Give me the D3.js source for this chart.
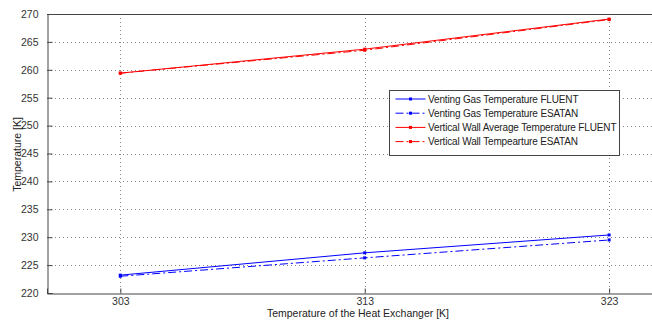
<!DOCTYPE html>
<html>
<head>
<meta charset="utf-8">
<script src="https://cdn.jsdelivr.net/npm/d3@7"></script>
<style>
  html, body { margin: 0; padding: 0; background: #fff; }
  svg { display: block; font-family: "Liberation Sans", Arial, sans-serif; }
</style>
</head>
<body>
<div id="chart"></div>
<script>
const exchangerTemps = [303, 313, 323];
const ventFluent = [223.2, 227.2, 230.4];
const ventEsatan = [223.0, 226.3, 229.5];
const wallFluent = [259.4, 263.7, 269.1];
const wallEsatan = [259.4, 263.5, 269.0];
const yTicks = [220, 225, 230, 235, 240, 245, 250, 255, 260, 265, 270];

const series = [
    {name: "Venting Gas Temperature FLUENT", values: ventFluent, color: "#0000ff", dash: null},
    {name: "Venting Gas Temperature ESATAN", values: ventEsatan, color: "#0000ff", dash: "8,3,2,3"},
    {name: "Vertical Wall Average Temperature FLUENT", values: wallFluent, color: "#ff0000", dash: null},
    {name: "Vertical Wall Tempearture ESATAN", values: wallEsatan, color: "#ff0000", dash: "8,3,2,3"}
];

const width = 652;
const height = 320;
const marginTop = 14;
const marginLeft = 47;
const marginBottom = 27;
const plotRight = 658;

const svg = d3.select("#chart").append("svg")
    .attr("width", width)
    .attr("height", height);

const x = d3.scaleLinear().domain([300, 325]).range([marginLeft, plotRight]);
const y = d3.scaleLinear().domain([220, 270]).range([height - marginBottom, marginTop]);

// grid
const grid = svg.append("g")
    .attr("stroke", "#888")
    .attr("stroke-width", 1)
    .attr("stroke-dasharray", "1,3");

grid.selectAll("line.h")
    .data(yTicks.slice(1, -1))
    .join("line")
    .attr("x1", marginLeft).attr("x2", plotRight)
    .attr("y1", d => Math.round(y(d)) + 0.5).attr("y2", d => Math.round(y(d)) + 0.5);

grid.selectAll("line.v")
    .data(exchangerTemps)
    .join("line")
    .attr("x1", d => Math.round(x(d)) + 0.5).attr("x2", d => Math.round(x(d)) + 0.5)
    .attr("y1", marginTop).attr("y2", height - marginBottom);

// axes, ticks pointing inward
const yAxis = svg.append("g")
    .attr("transform", `translate(${marginLeft + 0.5},0)`)
    .call(d3.axisLeft(y).tickValues(yTicks).tickSize(-5).tickPadding(9));

const xAxis = svg.append("g")
    .attr("transform", `translate(0,${height - marginBottom + 0.5})`)
    .call(d3.axisBottom(x).tickValues(exchangerTemps).tickSize(-5).tickPadding(4));

svg.append("line")
    .attr("x1", marginLeft).attr("x2", plotRight)
    .attr("y1", marginTop + 0.5).attr("y2", marginTop + 0.5)
    .attr("stroke", "#444");

[yAxis, xAxis].forEach(a => {
    a.select(".domain").attr("stroke", "#444");
    a.selectAll(".tick line").attr("stroke", "#444");
    a.selectAll(".tick text").attr("fill", "#333").style("font-size", "10.5px")
        .style("font-family", "'Liberation Sans', Arial, sans-serif");
});

// lines + point markers
const line = d3.line()
    .x((d, i) => x(exchangerTemps[i]))
    .y(d => y(d));

const seriesGroup = svg.append("g");
series.forEach(s => {
    seriesGroup.append("path")
        .datum(s.values)
        .attr("fill", "none")
        .attr("stroke", s.color)
        .attr("stroke-width", 1)
        .attr("stroke-dasharray", s.dash)
        .attr("d", line);
    seriesGroup.selectAll(null)
        .data(s.values)
        .join("rect")
        .attr("x", (d, i) => x(exchangerTemps[i]) - 1.5)
        .attr("y", d => y(d) - 1.5)
        .attr("width", 3).attr("height", 3)
        .attr("fill", s.color);
});

// axis labels
svg.append("text")
    .attr("x", 358)
    .attr("y", 317)
    .attr("text-anchor", "middle")
    .attr("fill", "#222")
    .style("font-size", "10.5px")
    .text("Temperature of the Heat Exchanger [K]");

svg.append("text")
    .attr("transform", `translate(21,154.5) rotate(-90)`)
    .attr("text-anchor", "middle")
    .attr("fill", "#222")
    .style("font-size", "10.5px")
    .text("Temperature [K]");

// legend
const legend = svg.append("g").attr("transform", "translate(389.5,90.5)");
legend.append("rect")
    .attr("width", 230).attr("height", 65)
    .attr("fill", "#fff").attr("stroke", "#444");

const item = legend.selectAll("g.item")
    .data(series)
    .join("g")
    .attr("transform", (d, i) => `translate(0,${8.5 + i * 14.2})`);

item.append("line")
    .attr("x1", 6).attr("x2", 36)
    .attr("stroke", d => d.color)
    .attr("stroke-dasharray", d => d.dash);
item.append("rect")
    .attr("x", 19.5).attr("y", -1.5).attr("width", 3).attr("height", 3)
    .attr("fill", d => d.color);
item.append("text")
    .attr("x", 38.5).attr("dy", "0.35em")
    .attr("fill", "#222")
    .style("font-size", "10px")
    .style("letter-spacing", "-0.15px")
    .text(d => d.name);
</script>
</body>
</html>
